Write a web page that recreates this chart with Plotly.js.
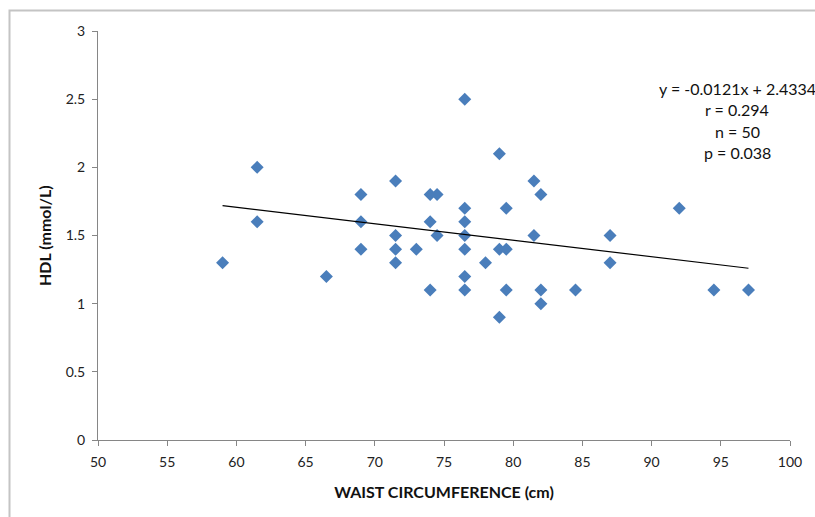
<!DOCTYPE html>
<html>
<head>
<meta charset="utf-8">
<script src="https://cdn.plot.ly/plotly-3.0.1.min.js"></script>
<style>
html,body{margin:0;padding:0;background:#fff;}
#chart{width:815px;height:517px;}
</style>
</head>
<body>
<div id="chart"></div>
<script>
// Data
const waist = [59, 61.5, 61.5, 66.5, 69, 69, 69, 71.5, 71.5, 71.5, 71.5, 73,
  74, 74.5, 74, 74.5, 74, 76.5, 76.5, 76.5, 76.5, 76.5, 76.5, 76.5, 78,
  79, 79, 79, 79.5, 79.5, 79.5, 81.5, 81.5, 82, 82, 82, 84.5, 87, 87, 92, 94.5, 97];
const hdl = [1.3, 2.0, 1.6, 1.2, 1.8, 1.6, 1.4, 1.9, 1.5, 1.4, 1.3, 1.4,
  1.8, 1.8, 1.6, 1.5, 1.1, 2.5, 1.7, 1.6, 1.5, 1.4, 1.2, 1.1, 1.3,
  2.1, 1.4, 0.9, 1.7, 1.4, 1.1, 1.9, 1.5, 1.8, 1.1, 1.0, 1.1, 1.5, 1.3, 1.7, 1.1, 1.1];
const slope = -0.0121;
const intercept = 2.4334;
const statsLines = ["y = -0.0121x + 2.4334", "r = 0.294", "n = 50", "p = 0.038"];
const xTicks = [50, 55, 60, 65, 70, 75, 80, 85, 90, 95, 100];
const yTicks = [0, 0.5, 1, 1.5, 2, 2.5, 3];
const yTitle = "HDL (mmol/L)";
const xTitle = "WAIST CIRCUMFERENCE (cm)";

const xMin = Math.min(...waist), xMax = Math.max(...waist);
const trendX = [xMin, xMax];
const trendY = trendX.map(v => slope * v + intercept);

const FONT = "Lato, 'Open Sans', sans-serif";

const traces = [
  {
    x: waist, y: hdl, type: 'scatter', mode: 'markers',
    marker: {symbol: 'diamond', size: 10, color: '#4a7ebb', line: {width: 0}},
    hoverinfo: 'x+y', showlegend: false
  },
  {
    x: trendX, y: trendY, type: 'scatter', mode: 'lines',
    line: {color: '#000', width: 1.2}, showlegend: false, hoverinfo: 'skip'
  }
];

const L = 98, R = 790, T = 31, B = 440;
const W = R - L, H = B - T;
const px2x = p => (p - L) / W;
const py2y = p => (B - p) / H;

const annotations = statsLines.map((s, i) => ({
  text: s, xref: 'paper', yref: 'paper',
  x: px2x(737), y: py2y(88 + i * 21.5),
  xanchor: 'center', yanchor: 'middle', showarrow: false,
  font: {family: FONT, size: 16, color: '#111'}
}));
annotations.push({
  text: '<b>' + yTitle + '</b>', xref: 'paper', yref: 'paper',
  x: px2x(45), y: py2y(236), textangle: -90,
  xanchor: 'center', yanchor: 'middle', showarrow: false,
  font: {family: FONT, size: 16, color: '#111'}
});

const layout = {
  width: 815, height: 517,
  margin: {l: L, r: 815 - R, t: T, b: 517 - B, pad: 0},
  paper_bgcolor: '#fff', plot_bgcolor: '#fff',
  font: {family: FONT, size: 14, color: '#222'},
  xaxis: {
    range: [50, 100], tickvals: xTicks, ticktext: xTicks.map(String),
    showgrid: false, zeroline: false, showline: true, linecolor: '#868686', linewidth: 1,
    ticks: 'outside', ticklen: 5, tickcolor: '#868686', ticklabelstandoff: 4,
    tickfont: {family: FONT, size: 14, color: '#222'},
    title: {text: '<b>' + xTitle + '</b>', font: {family: FONT, size: 16, color: '#111'}}
  },
  yaxis: {
    range: [0, 3], tickvals: yTicks, ticktext: yTicks.map(String),
    showgrid: false, zeroline: false, showline: true, linecolor: '#868686', linewidth: 1,
    ticks: 'outside', ticklen: 5, tickcolor: '#868686', ticklabelstandoff: 4,
    tickfont: {family: FONT, size: 14, color: '#222'}
  },
  annotations: annotations,
  shapes: [{
    type: 'rect', xref: 'paper', yref: 'paper',
    x0: px2x(9.5), x1: px2x(830), y0: py2y(530), y1: py2y(10.5),
    line: {color: '#c4c4c4', width: 2}, fillcolor: 'rgba(0,0,0,0)', layer: 'below'
  }]
};

Plotly.newPlot('chart', traces, layout, {displayModeBar: false, staticPlot: true});
</script>
</body>
</html>
